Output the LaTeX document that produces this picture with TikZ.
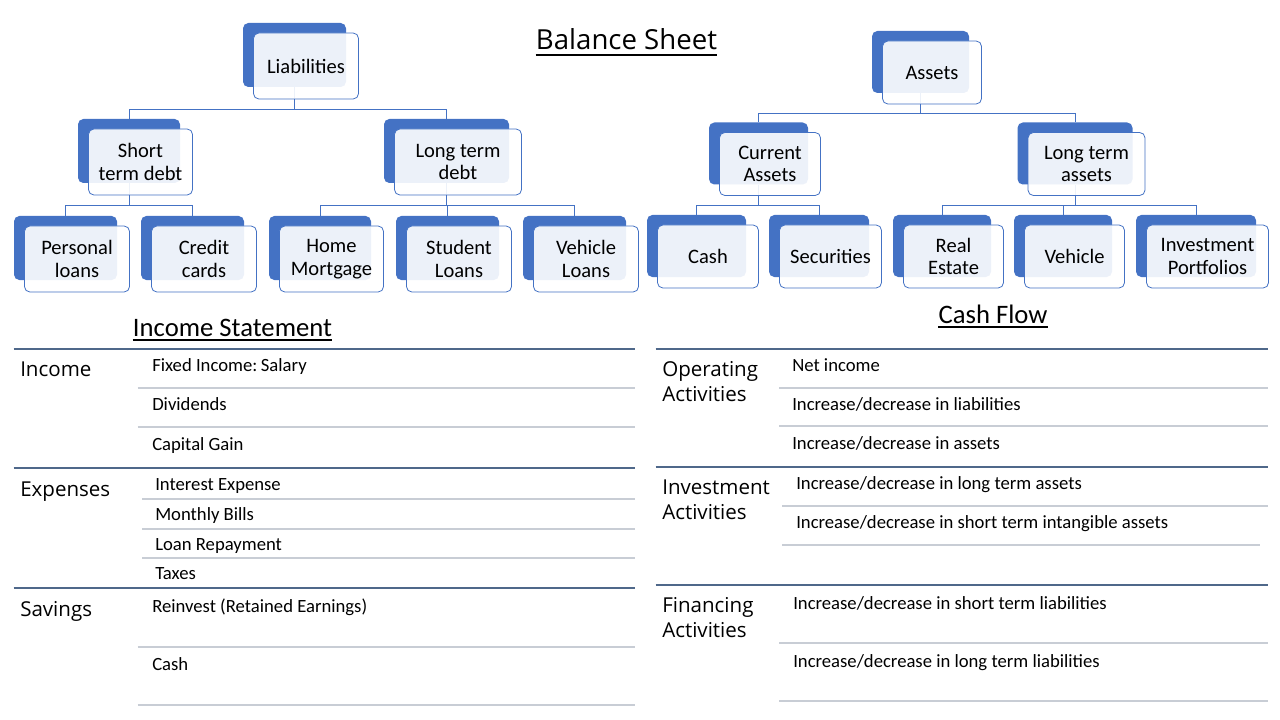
\documentclass[tikz,border=0pt]{standalone}
\usepackage{fontspec}
\setmainfont{Carlito}
\newfontfamily\headfont{Open Sans}
\usepackage{tikz}

\definecolor{cardblue}{RGB}{68,114,196}
\definecolor{rulesec}{RGB}{79,104,138}
\definecolor{rulerow}{RGB}{200,205,213}

\tikzset{
  cardback/.style={fill=cardblue, rounded corners=4pt, inner sep=0pt,
    minimum width=#1*0.75pt, minimum height=48pt},
  cardback/.default=103,
  cardfront/.style={draw=cardblue, line width=0.6pt, fill=white, fill opacity=0.9,
    text opacity=1, rounded corners=4pt, inner sep=0pt, align=center,
    minimum width=#1*0.75pt+1.5pt, minimum height=49.5pt,
    font=\fontsize{15.4pt}{16.9pt}\selectfont},
  cardfront/.default=103,
  link/.style={draw=cardblue, line width=0.75pt},
  title/.style={inner sep=0pt, anchor=base},
  seclabel/.style={inner sep=0pt, anchor=base west, align=left,
    font=\headfont\fontsize{15.4pt}{18.75pt}\selectfont},
  item/.style={inner sep=0pt, anchor=base west, font=\fontsize{14pt}{16pt}\selectfont},
  secrule/.style={draw=rulesec, line width=1.1pt},
  rowrule/.style={draw=rulerow, line width=0.9pt},
}

\begin{document}
\begin{tikzpicture}[x=0.75pt, y=-0.75pt]
    \useasboundingbox (0,0) rectangle (1280,720);

    % draw titles
    \node[title, font=\headfont\fontsize{20.7pt}{24pt}\selectfont] (bsheet) at (626.5,50) {Balance Sheet};
    \draw[line width=1.9pt] ([yshift=-3.6pt]bsheet.base west) -- ([yshift=-3.6pt]bsheet.base east);
    \node[title, font=\fontsize{20pt}{24pt}\selectfont] (istate) at (232.5,336) {Income Statement};
    \draw[line width=1.6pt] ([yshift=-3pt]istate.base west) -- ([yshift=-3pt]istate.base east);
    \node[title, font=\fontsize{20pt}{24pt}\selectfont] (cflow) at (993,323) {Cash Flow};
    \draw[line width=1.6pt] ([yshift=-3pt]cflow.base west) -- ([yshift=-3pt]cflow.base east);

    % draw back cards, liabilities
    \node[cardback] (liab) at (294.5,55) {};
    \node[cardback=102] (std) at (129,151) {};
    \node[cardback=125] (ltd) at (446.5,151) {};
    \node[cardback] (pers) at (65.5,248) {};
    \node[cardback] (cred) at (192.5,248) {};
    \node[cardback=102] (home) at (320,248) {};
    \node[cardback] (stud) at (447.5,248) {};
    \node[cardback] (vehl) at (574.5,248) {};

    % draw back cards, assets
    \node[cardback=97, minimum height=46.5pt] (asset) at (920.5,62) {};
    \node[cardback=99, minimum height=46.5pt] (cur) at (758.5,153.5) {};
    \node[cardback=115, minimum height=46.5pt] (lta) at (1075,153.5) {};
    \node[cardback=99, minimum height=46.5pt] (cash) at (696.5,246) {};
    \node[cardback=100, minimum height=46.5pt] (sec) at (819,246) {};
    \node[cardback=98, minimum height=46.5pt] (real) at (942,246) {};
    \node[cardback=98, minimum height=46.5pt] (veh) at (1063,246) {};
    \node[cardback=120, minimum height=46.5pt] (inv) at (1196,246) {};

    % draw links
    \draw[link] (liab.south) -- ++(0,22) -| (std.north);
    \draw[link] (liab.south) -- ++(0,22) -| (ltd.north);
    \draw[link] (std.south) -- ++(0,22) -| (pers.north);
    \draw[link] (std.south) -- ++(0,22) -| (cred.north);
    \draw[link] (ltd.south) -- ++(0,22) -| (home.north);
    \draw[link] (ltd.south) -- ++(0,22) -| (stud.north);
    \draw[link] (ltd.south) -- ++(0,22) -| (vehl.north);
    \draw[link] (asset.south) -- ++(0,20) -| (cur.north);
    \draw[link] (asset.south) -- ++(0,20) -| (lta.north);
    \draw[link] (cur.south) -- ++(0,21) -| (cash.north);
    \draw[link] (cur.south) -- ++(0,21) -| (sec.north);
    \draw[link] (lta.south) -- ++(0,21) -| (real.north);
    \draw[link] (lta.south) -- ++(0,21) -| (veh.north);
    \draw[link] (lta.south) -- ++(0,21) -| (inv.north);

    % draw front cards with labels
    \node[cardfront] (liabtop) at ([shift={(11.5,11)}]liab.center) {Liabilities};
    \node[cardfront=102] (stdtop) at ([shift={(11.5,11)}]std.center) {Short\\term debt};
    \node[cardfront=125] (ltdtop) at ([shift={(11.5,11)}]ltd.center) {Long term\\debt};
    \node[cardfront] (perstop) at ([shift={(11.5,11)}]pers.center) {Personal\\loans};
    \node[cardfront] (credtop) at ([shift={(11.5,11)}]cred.center) {Credit\\cards};
    \node[cardfront=102] (hometop) at ([shift={(11.5,11)}]home.center) {Home\\Mortgage};
    \node[cardfront] (studtop) at ([shift={(11.5,11)}]stud.center) {Student\\Loans};
    \node[cardfront] (vehltop) at ([shift={(11.5,11)}]vehl.center) {Vehicle\\Loans};

    \node[cardfront=97, minimum height=47.25pt] (assettop) at ([shift={(11.5,10.5)}]asset.center) {Assets};
    \node[cardfront=99, minimum height=47.25pt] (curtop) at ([shift={(11.5,10.5)}]cur.center) {Current\\Assets};
    \node[cardfront=115, minimum height=47.25pt] (ltatop) at ([shift={(11.5,10.5)}]lta.center) {Long term\\assets};
    \node[cardfront=99, minimum height=47.25pt] (cashtop) at ([shift={(11.5,10.5)}]cash.center) {Cash};
    \node[cardfront=100, minimum height=47.25pt] (sectop) at ([shift={(11.5,10.5)}]sec.center) {Securities};
    \node[cardfront=98, minimum height=47.25pt] (realtop) at ([shift={(11.5,10.5)}]real.center) {Real\\Estate};
    \node[cardfront=98, minimum height=47.25pt] (vehtop) at ([shift={(11.5,10.5)}]veh.center) {Vehicle};
    \node[cardfront=120, minimum height=47.25pt] (invtop) at ([shift={(11.5,10.5)}]inv.center) {Investment\\Portfolios};

    % draw income statement rules
    \draw[secrule] (13.5,349) -- (635,349);
    \draw[rowrule] (137.5,388) -- (635,388);
    \draw[rowrule] (137.5,427) -- (635,427);
    \draw[secrule] (13.5,468) -- (635,468);
    \draw[rowrule] (142,499) -- (635,499);
    \draw[rowrule] (142,529) -- (635,529);
    \draw[rowrule] (142,558) -- (635,558);
    \draw[secrule] (13.5,588) -- (635,588);
    \draw[rowrule] (137.5,647) -- (635,647);
    \draw[rowrule] (137.5,705) -- (635,705);

    % draw income statement labels
    \node[seclabel] (inc) at (20,376) {Income};
    \node[item] (salary) at (152,371.5) {Fixed Income:\hspace{-1.5pt} Salary};
    \node[item] (divid) at (152,410) {Dividends};
    \node[item] (gain) at (152,450) {Capital Gain};
    \node[seclabel] (expn) at (20,496) {Expenses};
    \node[item] (intexp) at (155,490) {Interest Expense};
    \node[item] (bills) at (155,520) {Monthly Bills};
    \node[item] (repay) at (155,550) {Loan Repayment};
    \node[item] (taxes) at (155,579) {Taxes};
    \node[seclabel] (save) at (20,616) {Savings};
    \node[item] (reinv) at (152,612) {Reinvest (Retained Earnings)};
    \node[item] (scash) at (152,670) {Cash};

    % draw cash flow rules
    \draw[secrule] (655.5,349) -- (1268,349);
    \draw[rowrule] (779,388) -- (1268,388);
    \draw[rowrule] (779,426) -- (1268,426);
    \draw[secrule] (655.5,467) -- (1268,467);
    \draw[rowrule] (782,506) -- (1268,506);
    \draw[rowrule] (782,545) -- (1260,545);
    \draw[secrule] (655.5,585) -- (1268,585);
    \draw[rowrule] (779,643) -- (1268,643);
    \draw[rowrule] (779,701) -- (1268,701);

    % draw cash flow labels
    \node[seclabel, anchor=west] (oper) at (662,382) {Operating\\Activities};
    \node[item] (netinc) at (792,371) {Net income};
    \node[item] (dliab) at (792,410) {Increase/decrease in liabilities};
    \node[item] (dasset) at (792,449) {Increase/decrease in assets};
    \node[seclabel, anchor=west] (invst) at (662,499.5) {Investment\\Activities};
    \node[item] (dlta) at (796,489) {Increase/decrease in long term assets};
    \node[item] (dsti) at (796,528) {Increase/decrease in short term intangible assets};
    \node[seclabel, anchor=west] (finc) at (662,618) {Financing\\Activities};
    \node[item] (dstl) at (793,609) {Increase/decrease in short term liabilities};
    \node[item] (dltl) at (793,667) {Increase/decrease in long term liabilities};

\end{tikzpicture}
\end{document}
